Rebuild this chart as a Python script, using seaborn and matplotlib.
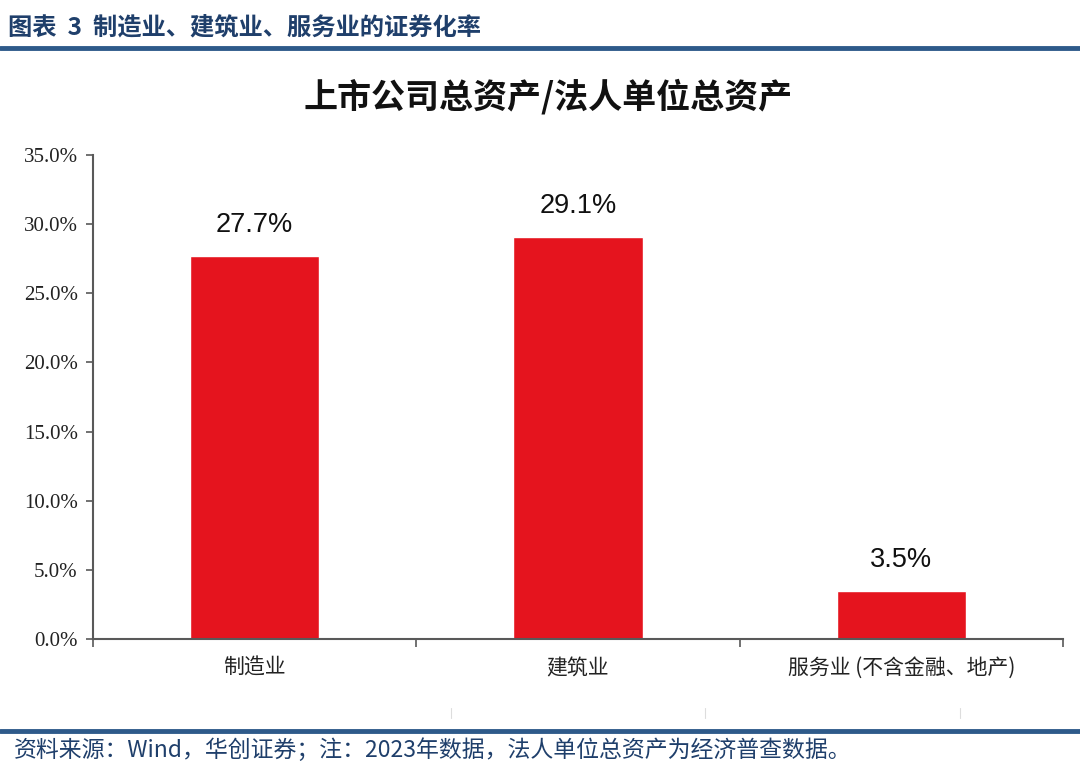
import matplotlib
matplotlib.use("Agg")
import matplotlib.pyplot as plt
import seaborn as sns
import pandas as pd
from matplotlib.ticker import FuncFormatter, FixedLocator

# data
categories = ["制造业", "建筑业", "服务业 (不含金融、地产)"]
ratios = [27.7, 29.1, 3.5]
yticks = [0, 5, 10, 15, 20, 25, 30, 35]

header = "图表  3  制造业、建筑业、服务业的证券化率"
title = "上市公司总资产/法人单位总资产"
footer = "资料来源：Wind，华创证券；注：2023年数据，法人单位总资产为经济普查数据。"

df = pd.DataFrame({"cat": categories, "val": ratios})

sns.set_theme(style="white")
plt.rcParams['font.family'] = ['Noto Sans CJK SC', 'DejaVu Sans']

blue = "#2E5A8A"
red = "#E5141E"
spine_col = "#595959"

fig = plt.figure(figsize=(10.8, 7.82), dpi=100)
ax = fig.add_axes([93/1080, 1-639/782, (1063-93)/1080, (639-155)/782])

sns.barplot(data=df, x="cat", y="val", color=red, width=0.4, saturation=1, ax=ax)

for i, v in enumerate(ratios):
    ax.annotate(f"{v:.1f}%", (i, v), xytext=(0, 13), textcoords="offset points",
                ha="center", va="bottom", fontsize=19.5, family="Liberation Sans",
                color="#111111")

ax.set_ylim(0, 35)
ax.set_xlim(-0.5, 2.5)
ax.set_yticks(yticks)
ax.yaxis.set_major_formatter(FuncFormatter(lambda v, p: f"{v:.1f}%"))
for lab in ax.get_yticklabels():
    lab.set_family("Liberation Serif")
    lab.set_fontsize(15)
    lab.set_color("#222222")
ax.tick_params(axis="y", which="major", left=True, length=5, width=1.2,
               color=spine_col, pad=6, direction="out")
ax.tick_params(axis="x", which="major", bottom=False, length=0, pad=13,
               labelsize=15, labelcolor="#222222")
ax.xaxis.set_minor_locator(FixedLocator([-0.5, 0.5, 1.5, 2.5]))
ax.tick_params(axis="x", which="minor", bottom=True, length=6, width=1.2,
               color=spine_col, direction="out")

ax.set_xlabel("")
ax.set_ylabel("")
for s in ["top", "right"]:
    ax.spines[s].set_visible(False)
for s in ["left", "bottom"]:
    ax.spines[s].set_color(spine_col)
    ax.spines[s].set_linewidth(1.5)

fig.text(548/1080, 1-97/782, title, ha="center", va="center", fontsize=24.5,
         fontweight="bold", color="#111111")

# header and footer bands
fig.text(8/1080, 1-27/782, header, ha="left", va="center", fontsize=17.5,
         fontweight="bold", color="#1F3F6B")
fig.add_artist(plt.Line2D([0, 1], [1-48/782, 1-48/782], color=blue, lw=3.5,
                          transform=fig.transFigure))
fig.add_artist(plt.Line2D([0, 1], [1-731/782, 1-731/782], color=blue, lw=3.5,
                          transform=fig.transFigure))
for xp in [451, 705, 960]:
    fig.add_artist(plt.Line2D([xp/1080, xp/1080], [1-718/782, 1-708/782],
                              color="#DDDDDD", lw=0.8, transform=fig.transFigure))
fig.text(14/1080, 1-750/782, footer, ha="left", va="center", fontsize=16.5,
         color="#1F3F6B", style="italic")

fig.savefig("out.png", dpi=100)
